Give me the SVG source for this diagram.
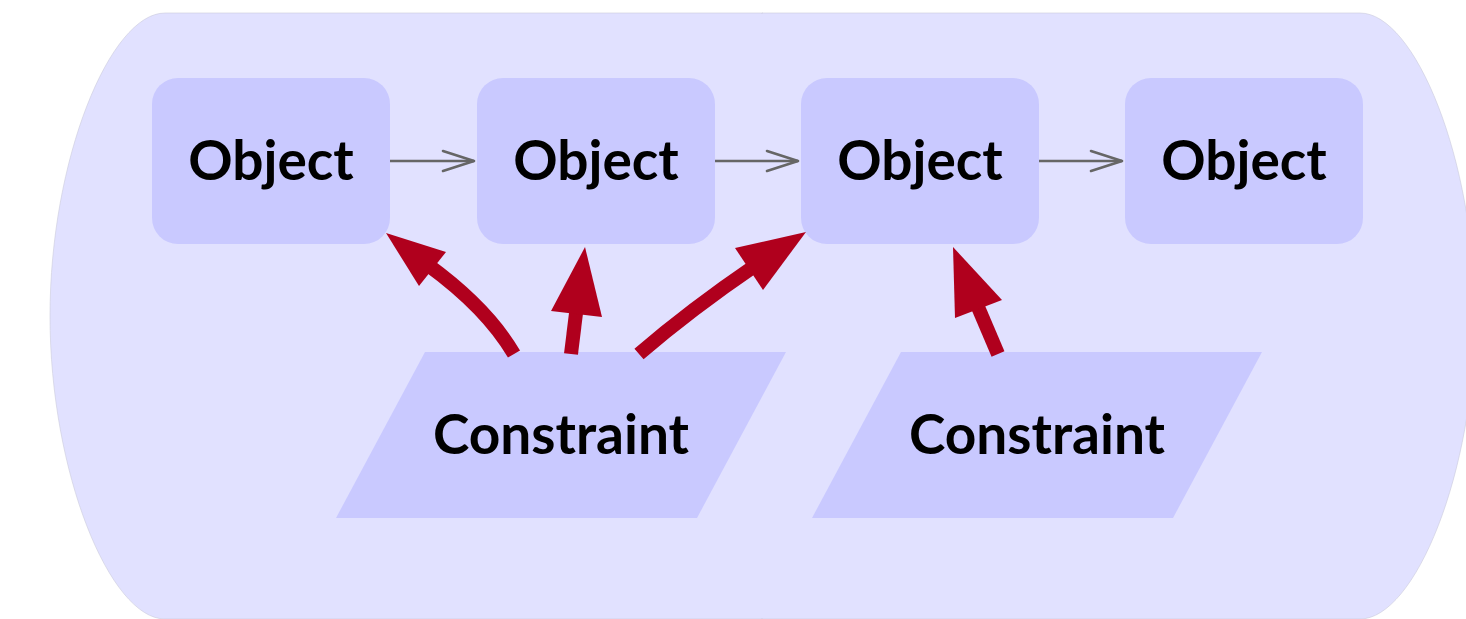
<svg xmlns="http://www.w3.org/2000/svg" width="1466" height="619" viewBox="0 0 1466 619">
  <defs>
    <style>
      .bg { fill: #e1e1ff; stroke: #cbcbdb; stroke-width: 0.6; }
      .obj { fill: #c9c9ff; }
      .con { fill: #c9c9ff; }
      .label { font-family: Lato, "Noto Sans", "Liberation Sans", sans-serif; font-weight: 700; font-size: 55px; fill: #000; text-anchor: middle; }
      .flow { stroke: #666; stroke-width: 2.6; fill: none; }
      .flow-head { stroke: #666; stroke-width: 2.6; fill: none; stroke-linecap: round; stroke-linejoin: round; }
      .force { stroke: #b0001d; stroke-width: 14; fill: none; }
      .force-head { fill: #b0001d; }
    </style>
  </defs>

  <!-- container: two mirrored halves meeting at the centre line -->
  <g id="container">
    <path class="bg" d="M763,13 L165,13 C110,13 50,160 50,316 C50,472 110,619 165,619 L763,619 Z"/>
    <path class="bg" d="M762,13 L1360,13 C1415,13 1475,160 1475,316 C1475,472 1415,619 1360,619 L762,619 Z"/>
    <rect x="760" y="14" width="6" height="604" fill="#e1e1ff"/>
  </g>

  <g id="object-1">
    <rect class="obj" x="152" y="78" width="238" height="166" rx="26"/>
    <text class="label" x="271" y="180">Object</text>
  </g>
  <g id="object-2">
    <rect class="obj" x="477" y="78" width="238" height="166" rx="26"/>
    <text class="label" x="596" y="180">Object</text>
  </g>
  <g id="object-3">
    <rect class="obj" x="801" y="78" width="238" height="166" rx="26"/>
    <text class="label" x="920" y="180">Object</text>
  </g>
  <g id="object-4">
    <rect class="obj" x="1125" y="78" width="238" height="166" rx="26"/>
    <text class="label" x="1244" y="180">Object</text>
  </g>

  <g id="constraint-1">
    <polygon class="con" points="425,352 786,352 697,518 336,518"/>
    <text class="label" x="561" y="454">Constraint</text>
  </g>
  <g id="constraint-2">
    <polygon class="con" points="901,352 1262,352 1173,518 812,518"/>
    <text class="label" x="1037" y="454">Constraint</text>
  </g>

  <g id="connectors">
    <!-- sequence arrows between objects -->
    <line class="flow" x1="390" y1="161" x2="474" y2="161"/>
    <polyline class="flow-head" points="443,151 474,161 443,171"/>
    <line class="flow" x1="715" y1="161" x2="798" y2="161"/>
    <polyline class="flow-head" points="767,151 798,161 767,171"/>
    <line class="flow" x1="1039" y1="161" x2="1122" y2="161"/>
    <polyline class="flow-head" points="1091,151 1122,161 1091,171"/>

    <!-- constraint arrows -->
    <path class="force" d="M514,354 Q487,308 428,265"/>
    <polygon class="force-head" points="386,233 446,252 419,286"/>

    <path class="force" d="M571,354 L577,305"/>
    <polygon class="force-head" points="585,247 602,317 551,311"/>

    <path class="force" d="M639,354 Q690,310 756,265"/>
    <polygon class="force-head" points="806,232 763,290 735,248"/>

    <path class="force" d="M998,354 L975,300"/>
    <polygon class="force-head" points="953,247 1002,300 955,318"/>
  </g>
</svg>
